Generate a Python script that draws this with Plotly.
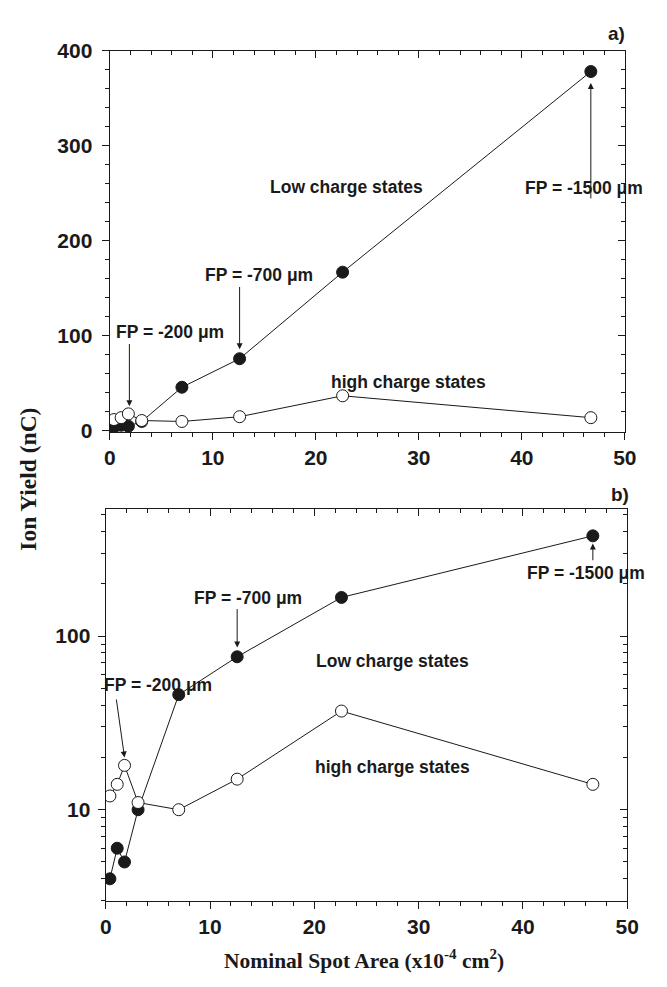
import plotly.graph_objects as go
import math

# ---- data ----
area = [0.4, 1.1, 1.8, 3.1, 7.0, 12.6, 22.6, 46.7]
low_charge = [4, 6, 5, 10, 46, 76, 167, 378]
high_charge = [12, 14, 18, 11, 10, 15, 37, 14]

x_ticks = [0, 10, 20, 30, 40, 50]
y_ticks_lin = [0, 100, 200, 300, 400]
y_ticks_log = [10, 100]
log_minor = [3, 4, 5, 6, 7, 8, 9, 20, 30, 40, 50, 60, 70, 80, 90, 200, 300, 400, 500]

W, H = 667, 987
INK = "#1a1a1a"
TICKFONT = dict(family="Liberation Sans, Arial", size=21, color=INK, weight="bold")
ANNFONT = dict(family="Liberation Sans, Arial", size=17.5, color=INK, weight="bold")

fig = go.Figure()

def add_series(xa, ya):
    fig.add_trace(go.Scatter(x=area, y=low_charge, mode="lines+markers", xaxis=xa, yaxis=ya,
                             line=dict(color=INK, width=1),
                             marker=dict(symbol="circle", size=12, color=INK, line=dict(color=INK, width=1)),
                             showlegend=False))
    fig.add_trace(go.Scatter(x=area, y=high_charge, mode="lines+markers", xaxis=xa, yaxis=ya,
                             line=dict(color=INK, width=1),
                             marker=dict(symbol="circle", size=12, color="white", line=dict(color=INK, width=1)),
                             showlegend=False))

add_series("x", "y")
add_series("x2", "y2")

top_xdom = [106.7 / W, 636.0 / W]
top_ydom = [1 - 429.5 / H, 1 - 39.5 / H]
bot_xdom = [102.5 / W, 638.5 / W]
bot_ydom = [1 - 909.3 / H, 1 - 508.0 / H]

xrange = [0, 50]
yrange_lin = [-1, 400]
yrange_log = [0.474, 2.734]

def ax_common(ticks, show_labels):
    return dict(ticks=ticks, ticklen=7, tickwidth=1.2, tickcolor=INK, showline=True, linecolor=INK,
                linewidth=1.4, showgrid=False, zeroline=False, showticklabels=show_labels,
                tickfont=TICKFONT)

def minor(ticks, **kw):
    return dict(ticks=ticks, ticklen=4, tickcolor=INK, tickwidth=1, showgrid=False, **kw)

fig.update_layout(
    width=W, height=H, autosize=False,
    margin=dict(l=0, r=0, t=0, b=0),
    paper_bgcolor="white", plot_bgcolor="white",
    xaxis=dict(domain=top_xdom, anchor="y", range=xrange, tickvals=x_ticks, **ax_common("outside", True),
               minor=minor("outside", dtick=2)),
    yaxis=dict(domain=top_ydom, anchor="x", range=yrange_lin, tickvals=y_ticks_lin, ticklabelstandoff=5,
               **ax_common("outside", True), minor=minor("outside", dtick=20)),
    xaxis2=dict(domain=bot_xdom, anchor="y2", range=xrange, tickvals=x_ticks, **ax_common("outside", True),
                minor=minor("outside", dtick=2)),
    yaxis2=dict(domain=bot_ydom, anchor="x2", type="log", range=yrange_log, tickvals=y_ticks_log,
                ticktext=[str(v) for v in y_ticks_log], ticklabelstandoff=3, **ax_common("outside", True),
                minor=minor("outside", tickvals=log_minor)),
    xaxis3=dict(overlaying="x", anchor="y", side="top", range=xrange, tickvals=x_ticks,
                **ax_common("inside", False), minor=minor("inside", dtick=2)),
    yaxis3=dict(overlaying="y", anchor="x", side="right", range=yrange_lin, tickvals=y_ticks_lin,
                **ax_common("inside", False), minor=minor("inside", dtick=20)),
    xaxis4=dict(overlaying="x2", anchor="y2", side="top", range=xrange, tickvals=x_ticks,
                **ax_common("inside", False), minor=minor("inside", dtick=2)),
    yaxis4=dict(overlaying="y2", anchor="x2", side="right", type="log", range=yrange_log, tickvals=y_ticks_log,
                **ax_common("inside", False), minor=minor("inside", tickvals=log_minor)),
)

for xa, ya in [("x3", "y3"), ("x4", "y4")]:
    fig.add_trace(go.Scatter(x=[None], y=[None], xaxis=xa, yaxis=ya, showlegend=False, hoverinfo="skip"))

ann = []
def text(x, y, s, xref, yref, **kw):
    ann.append(dict(x=x, y=y, xref=xref, yref=yref, text=s, showarrow=False, font=ANNFONT,
                    xanchor="center", yanchor="middle", **kw))

def arrow(x, y, ax, ay, xref, yref):
    ann.append(dict(x=x, y=y, ax=ax, ay=ay, xref=xref, yref=yref, axref=xref, ayref=yref, text="",
                    showarrow=True, arrowhead=2, arrowsize=1.2, arrowwidth=1, arrowcolor=INK))

L = math.log10
# top panel (linear)
text(5.8, 104, "FP = -200 μm", "x", "y")
arrow(1.9, 26, 1.9, 93, "x", "y")
text(14.5, 164, "FP = -700 μm", "x", "y")
arrow(12.6, 86, 12.6, 153, "x", "y")
text(46.0, 255, "FP = -1500 μm", "x", "y")
arrow(46.7, 366, 46.7, 243, "x", "y")
text(23.0, 257, "Low charge states", "x", "y")
text(29.0, 52, "high charge states", "x", "y")

# bottom panel (log)
text(5.0, L(52), "FP = -200 μm", "x2", "y2")
arrow(1.8, L(20), 1.0, L(44), "x2", "y2")
text(13.6, L(165), "FP = -700 μm", "x2", "y2")
arrow(12.6, L(86), 12.6, L(146), "x2", "y2")
text(46.0, L(232), "FP = -1500 μm", "x2", "y2")
arrow(46.7, L(342), 46.7, L(268), "x2", "y2")
text(27.5, L(72), "Low charge states", "x2", "y2")
text(27.5, L(17.7), "high charge states", "x2", "y2")

# panel labels
PANELFONT = dict(family="Liberation Sans, Arial", size=19, color=INK, weight="bold")
ann.append(dict(x=627 / W, y=1 - 21.5 / H, xref="paper", yref="paper", text="a)", showarrow=False,
                xanchor="center", yanchor="middle", font=PANELFONT))
ann.append(dict(x=631 / W, y=1 - 494 / H, xref="paper", yref="paper", text="b)", showarrow=False,
                xanchor="center", yanchor="middle", font=PANELFONT))

# axis titles
ann.append(dict(x=22.5 / W, y=1 - 477.5 / H, xref="paper", yref="paper", text="Ion Yield (nC)", textangle=-90,
                xanchor="center", yanchor="middle", showarrow=False,
                font=dict(family="Liberation Serif, Times New Roman", size=23.5, color=INK, weight="bold")))
ann.append(dict(x=368 / W, y=1 - 969 / H, xref="paper", yref="paper",
                text="Nominal Spot Area (x10<sup>-4</sup> cm<sup>2</sup>)",
                xanchor="center", yanchor="middle", showarrow=False,
                font=dict(family="Liberation Serif, Times New Roman", size=21.5, color=INK, weight="bold")))

fig.update_layout(annotations=ann)
fig.write_html("out.html", config={"displayModeBar": False},
               post_script="document.body.style.margin='0';document.body.style.overflow='hidden';")
